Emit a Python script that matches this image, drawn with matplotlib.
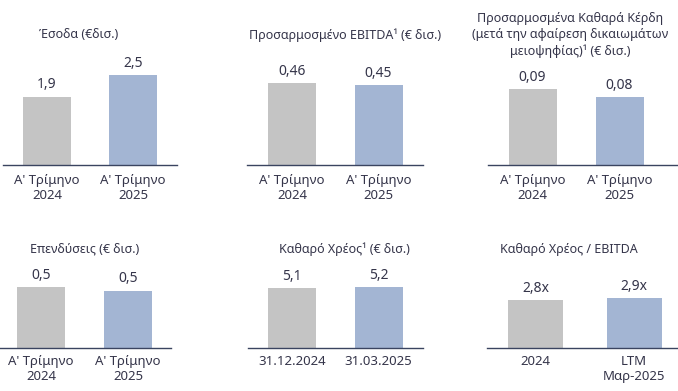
import numpy as np
import matplotlib.pyplot as plt

plt.rcParams['font.family'] = ['Noto Sans', 'DejaVu Sans']

# data
titles = [
    "Έσοδα (€δισ.)",
    "Προσαρμοσμένο EBITDA¹ (€ δισ.)",
    "Προσαρμοσμένα Καθαρά Κέρδη\n(μετά την αφαίρεση δικαιωμάτων\nμειοψηφίας)¹ (€ δισ.)",
    "Επενδύσεις (€ δισ.)",
    "Καθαρό Χρέος¹ (€ δισ.)",
    "Καθαρό Χρέος / EBITDA",
]
quarter_labels = ["Α' Τρίμηνο\n2024", "Α' Τρίμηνο\n2025"]
debt_labels = ["31.12.2024", "31.03.2025"]
ratio_labels = ["2024", "LTM\nΜαρ-2025"]

revenue = [1.9, 2.5]
ebitda = [0.46, 0.45]
net_profit = [0.09, 0.08]
capex = [0.52, 0.49]
net_debt = [5.1, 5.2]
debt_ebitda = [2.8, 2.9]

values = [revenue, ebitda, net_profit, capex, net_debt, debt_ebitda]
labels = [quarter_labels, quarter_labels, quarter_labels, quarter_labels, debt_labels, ratio_labels]
fmts = ["{:.1f}", "{:.2f}", "{:.2f}", "{:.1f}", "{:.1f}", "{:.1f}x"]

# layout in pixels (x left, x right, bar centre 0, bar centre 1, bar width, baseline y, top of tallest bar y)
W, H = 678, 391
layout = [
    (3, 177, 47, 133, 48, 165, 75),
    (247, 423, 292, 378.5, 48, 165, 83),
    (488, 678, 532.5, 619.5, 48, 165, 89),
    (0, 171, 41, 128, 48, 348, 287),
    (248, 423, 292, 378.5, 48, 348, 287),
    (487, 678, 535.5, 634, 55, 348, 298),
]
title_pos = [(79, 34), (345, 35), (570, 35), (85, 249), (344, 249), (569, 249)]
tick_pad = [6.5, 6.5, 6.5, 5.0, 5.0, 5.0]

colors = ['#c4c4c4', '#a3b5d3']
txt = '#35354a'
line = '#3a4460'

fig = plt.figure(figsize=(W / 100, H / 100), dpi=100)

for i in range(6):
    xl, xr, c0, c1, bw, base, top = layout[i]
    axh = 100
    ax = fig.add_axes([xl / W, (H - base) / H, (xr - xl) / W, axh / H])
    unit = c1 - c0
    x = np.arange(2)
    v = values[i]
    ax.bar(x, v, width=bw / unit, color=colors)
    ax.set_xlim((xl - c0) / unit, (xr - c0) / unit)
    ax.set_ylim(0, max(v) * axh / (base - top))
    for xi, vi in zip(x, v):
        ax.annotate(fmts[i].format(vi).replace('.', ','), (xi, vi), xytext=(0, 3),
                    textcoords='offset points', ha='center', va='bottom',
                    fontsize=10, color=txt)
    ax.set_xticks(x)
    ax.set_xticklabels(labels[i], fontsize=9.5, color=txt, linespacing=1.2)
    ax.tick_params(axis='x', length=0, pad=tick_pad[i])
    ax.set_yticks([])
    for s in ['top', 'right', 'left']:
        ax.spines[s].set_visible(False)
    ax.spines['bottom'].set_color(line)
    ax.spines['bottom'].set_linewidth(1.0)
    ax.patch.set_alpha(0)
    tx, ty = title_pos[i]
    fig.text(tx / W, 1 - ty / H, titles[i], ha='center', va='center',
             fontsize=9, color=txt, linespacing=1.35, fontweight='medium')

fig.savefig('out.png', dpi=100)
